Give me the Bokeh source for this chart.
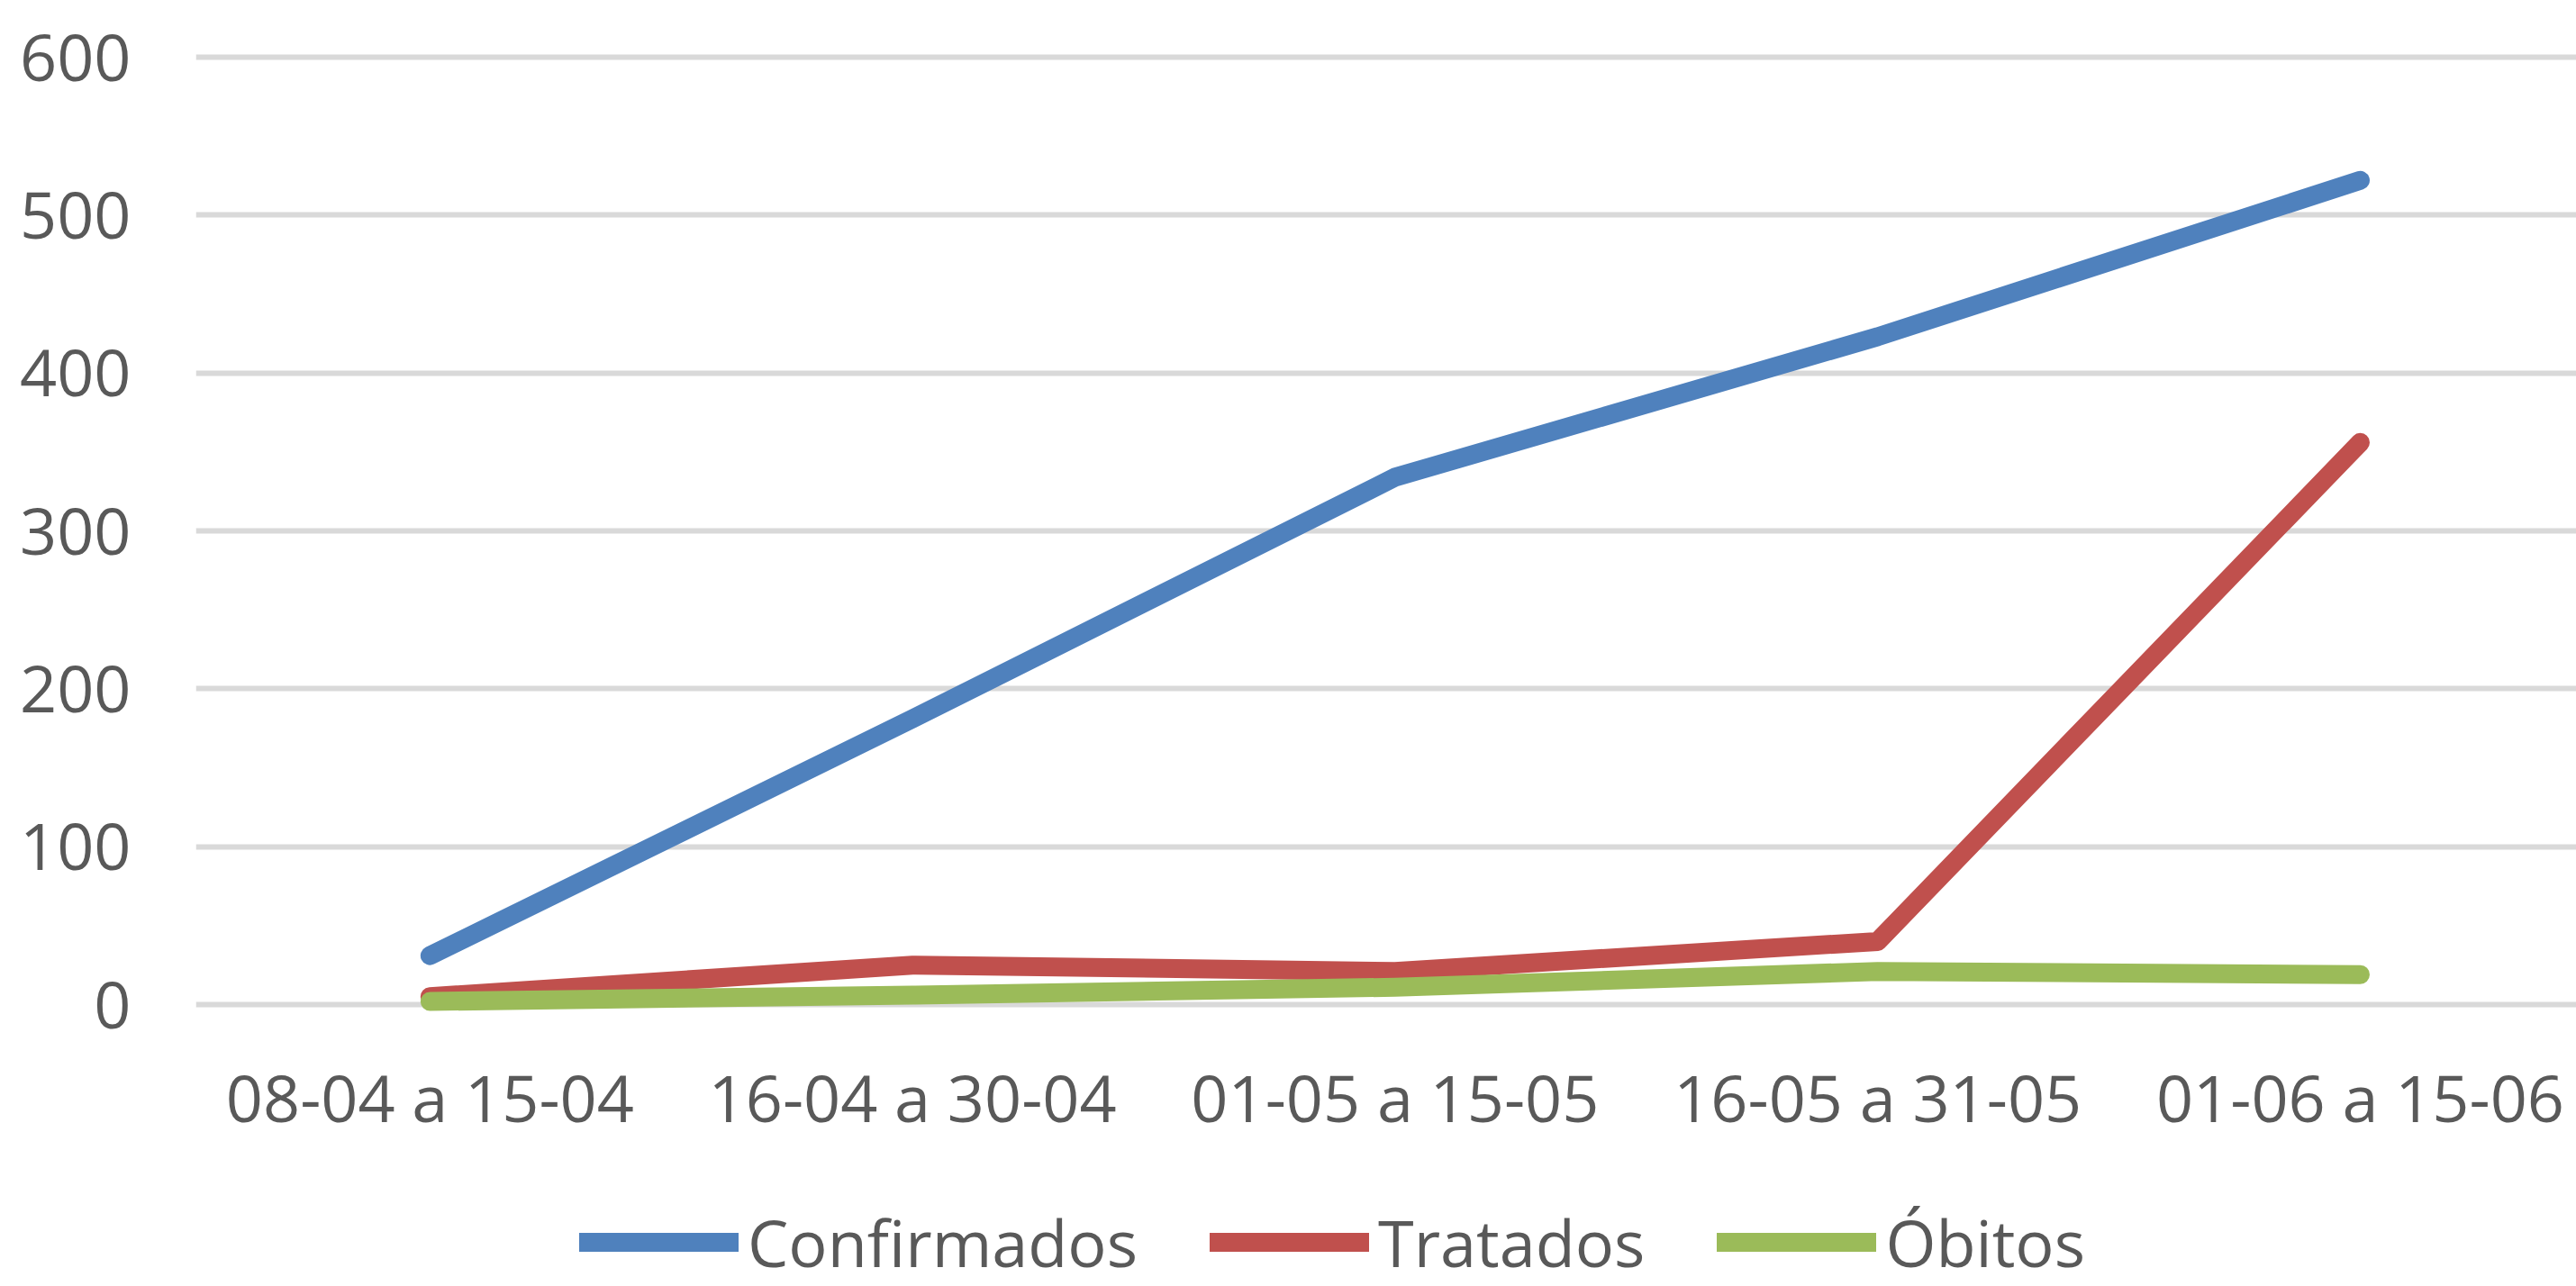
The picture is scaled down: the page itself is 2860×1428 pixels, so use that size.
from bokeh.plotting import figure
from bokeh.models import Range1d, FixedTicker, Legend, LegendItem
from bokeh.embed import file_html
from bokeh.resources import INLINE

categories = ["08-04 a 15-04", "16-04 a 30-04", "01-05 a 15-05", "16-05 a 31-05", "01-06 a 15-06"]
confirmados = [31, 181, 334, 423, 522]
tratados = [5, 25, 21, 40, 356]
obitos = [2, 6, 11, 21, 19]
y_ticks = [0, 100, 200, 300, 400, 500, 600]
series_names = ["Confirmados", "Tratados", "Óbitos"]
series_colors = ["#4F81BD", "#C0504D", "#9BBB59"]

FONT = "Open Sans"
TXT = "#595959"

idx = list(range(len(categories)))

p = figure(width=2860, height=1428, output_backend="svg", toolbar_location=None,
           x_range=Range1d(-0.485, 4.448), y_range=Range1d(-178.5, 612),
           min_border_left=217, min_border_right=0, min_border_top=42, min_border_bottom=0)
p.outline_line_color = None
p.background_fill_color = "white"
p.border_fill_color = "white"

renderers = []
for vals, col in zip([confirmados, tratados, obitos], series_colors):
    renderers.append(p.line(idx, vals, line_color=col, line_width=21,
                            line_cap="round", line_join="round"))

p.xaxis.ticker = FixedTicker(ticks=idx)
p.xaxis.major_label_overrides = {i: c for i, c in zip(idx, categories)}
p.xaxis.fixed_location = 0
p.yaxis.ticker = FixedTicker(ticks=y_ticks)
for ax in (p.xaxis, p.yaxis):
    ax.axis_line_color = None
    ax.major_tick_line_color = None
    ax.minor_tick_line_color = None
    ax.major_tick_out = 0
    ax.major_tick_in = 0
    ax.major_label_text_font = FONT
    ax.major_label_text_font_size = "72px"
    ax.major_label_text_color = TXT
p.xaxis.major_label_standoff = 53
p.yaxis.major_label_standoff = 72

p.xgrid.grid_line_color = None
p.ygrid.grid_line_color = "#D9D9D9"
p.ygrid.grid_line_width = 6
p.ygrid.ticker = FixedTicker(ticks=y_ticks)

legend = Legend(items=[LegendItem(label=n, renderers=[r]) for n, r in zip(series_names, renderers)],
                orientation="horizontal", location=(426, 0),
                glyph_width=177, glyph_height=60, label_standoff=10, spacing=80,
                padding=0, margin=0, border_line_color=None, background_fill_alpha=0,
                label_text_font=FONT, label_text_font_size="72px", label_text_color=TXT)
p.add_layout(legend, "center")

open("out.html", "w").write(file_html(p, INLINE))
